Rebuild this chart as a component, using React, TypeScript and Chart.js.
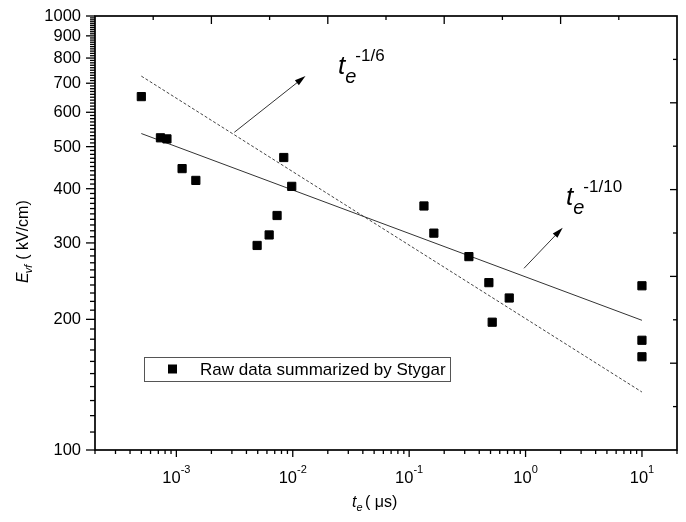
import React, { useEffect, useRef } from "react";
import { Chart, registerables } from "chart.js";

Chart.register(...registerables);

// ---- data ----
const pulseWidths = [5.0e-4, 7.3e-4, 8.3e-4, 1.12e-3, 1.47e-3, 4.94e-3, 6.27e-3, 7.33e-3, 8.37e-3, 9.8e-3, 0.134, 0.163, 0.326, 0.484, 0.517, 0.724, 10, 10, 10];
const fieldValues = [652, 524, 521, 445, 418, 296, 313, 347, 472, 405, 365, 316, 279, 243, 197, 224, 239, 179, 164];
const fitX = [5e-4, 10];
const fitTenth = [536, 199];
const fitSixth = [727, 136];
const yTickLabels = [100, 200, 300, 400, 500, 600, 700, 800, 900, 1000];
const xTickValues = [1e-3, 1e-2, 1e-1, 1, 10];
const xTickExponents = ["-3", "-2", "-1", "0", "1"];
const legendLabel = "Raw data summarized by Stygar";

const FONT = '"Liberation Sans", Arial, sans-serif';

function drawArrow(ctx: CanvasRenderingContext2D, x1: number, y1: number, x2: number, y2: number) {
  const ang = Math.atan2(y2 - y1, x2 - x1);
  const len = 11, half = 3.2;
  ctx.beginPath();
  ctx.moveTo(x1, y1);
  ctx.lineTo(x2 - Math.cos(ang) * len * 0.8, y2 - Math.sin(ang) * len * 0.8);
  ctx.stroke();
  ctx.beginPath();
  ctx.moveTo(x2, y2);
  ctx.lineTo(x2 - Math.cos(ang) * len - Math.sin(ang) * half, y2 - Math.sin(ang) * len + Math.cos(ang) * half);
  ctx.lineTo(x2 - Math.cos(ang) * len + Math.sin(ang) * half, y2 - Math.sin(ang) * len - Math.cos(ang) * half);
  ctx.closePath();
  ctx.fill();
}

function drawPowerLabel(ctx: CanvasRenderingContext2D, x: number, base: number, sup: string) {
  ctx.textAlign = "left";
  ctx.textBaseline = "alphabetic";
  ctx.font = `italic 26px ${FONT}`;
  ctx.fillText("t", x, base);
  const tw = ctx.measureText("t").width;
  ctx.font = `italic 20px ${FONT}`;
  ctx.fillText("e", x + tw, base + 9);
  const ew = ctx.measureText("e").width;
  ctx.font = `17px ${FONT}`;
  ctx.fillText(sup, x + tw + ew - 1, base - 13);
}

const decor = {
  id: "decor",
  afterDraw(chart: any) {
    const ctx: CanvasRenderingContext2D = chart.ctx;
    const { left, right, top, bottom } = chart.chartArea;
    const xs = chart.scales.x;
    const ys = chart.scales.y;
    ctx.save();
    ctx.strokeStyle = "#000";
    ctx.fillStyle = "#000";

    const seg = (a: number, b: number, c: number, d: number) => {
      ctx.beginPath();
      ctx.moveTo(a, b);
      ctx.lineTo(c, d);
      ctx.stroke();
    };

    // left axis ticks (outward)
    ctx.lineWidth = 1.3;
    for (let v = 100; v <= 1000; v += 10) {
      const y = ys.getPixelForValue(v);
      const major = v % 100 === 0;
      seg(left, y, left - (major ? 9 : 5), y);
    }
    // bottom axis ticks (outward)
    for (let e = -4; e <= 1; e++) {
      for (let m = 1; m <= 9; m++) {
        const v = m * Math.pow(10, e);
        if (v < 2e-4 * 0.999 || v > 20 * 1.001) continue;
        const x = xs.getPixelForValue(v);
        seg(x, bottom, x, bottom + (m === 1 ? 7 : 4));
      }
    }
    // top axis ticks (inward)
    for (let i = 1; i < 10; i++) {
      const x = left + ((right - left) * i) / 10;
      seg(x, top, x, top + (i % 2 === 0 ? 8 : 4));
    }
    // right axis ticks (inward)
    for (let i = 1; i < 10; i++) {
      const y = bottom - ((bottom - top) * i) / 10;
      seg(right, y, right - (i % 2 === 0 ? 7 : 4), y);
    }

    // frame
    ctx.lineWidth = 1.7;
    ctx.strokeRect(left, top, right - left, bottom - top);

    // y tick labels
    ctx.font = `16.5px ${FONT}`;
    ctx.textAlign = "right";
    ctx.textBaseline = "middle";
    for (const v of yTickLabels) {
      ctx.fillText(String(v), left - 14, ys.getPixelForValue(v) + 0.5);
    }

    // x tick labels with superscripts
    ctx.textBaseline = "alphabetic";
    ctx.textAlign = "left";
    xTickValues.forEach((v, i) => {
      const x = xs.getPixelForValue(v);
      ctx.font = `16.5px ${FONT}`;
      const w1 = ctx.measureText("10").width;
      ctx.font = `11px ${FONT}`;
      const w2 = ctx.measureText(xTickExponents[i]).width;
      const start = x - (w1 + w2) / 2;
      ctx.font = `16.5px ${FONT}`;
      ctx.fillText("10", start, bottom + 33);
      ctx.font = `11px ${FONT}`;
      ctx.fillText(xTickExponents[i], start + w1, bottom + 23);
    });

    // x axis title: t_e ( μs)
    {
      const x0 = 352, base = 507;
      ctx.font = `italic 16px ${FONT}`;
      ctx.fillText("t", x0, base);
      const tw = ctx.measureText("t").width;
      ctx.font = `italic 11px ${FONT}`;
      ctx.fillText("e", x0 + tw, base + 4);
      ctx.font = `16px ${FONT}`;
      ctx.fillText("( \u03bcs)", x0 + 13, base);
    }

    // y axis title: E_vf ( kV/cm)
    {
      ctx.save();
      ctx.translate(28, 283);
      ctx.rotate(-Math.PI / 2);
      ctx.font = `italic 16px ${FONT}`;
      ctx.fillText("E", 0, 0);
      const ew = ctx.measureText("E").width;
      ctx.font = `italic 11px ${FONT}`;
      ctx.fillText("vf", ew - 1, 4);
      const vw = ctx.measureText("vf").width;
      ctx.font = `16px ${FONT}`;
      ctx.fillText("( kV/cm)", ew + vw + 4, 0);
      ctx.restore();
    }

    // annotations
    ctx.strokeStyle = "#333";
    ctx.fillStyle = "#000";
    ctx.lineWidth = 1;
    drawArrow(ctx, 234.3, 132.3, 305.5, 76);
    drawArrow(ctx, 524, 268.3, 562.7, 227.7);
    drawPowerLabel(ctx, 338, 74, "-1/6");
    drawPowerLabel(ctx, 566, 205, "-1/10");

    // legend
    ctx.strokeStyle = "#555";
    ctx.lineWidth = 1;
    ctx.strokeRect(144.5, 357.5, 306, 24);
    ctx.fillStyle = "#000";
    ctx.fillRect(168, 364.5, 9, 9);
    ctx.font = `17px ${FONT}`;
    ctx.textAlign = "left";
    ctx.textBaseline = "middle";
    ctx.fillText(legendLabel, 200, 370);

    ctx.restore();
  },
};

export default function App() {
  const ref = useRef<HTMLCanvasElement>(null);
  useEffect(() => {
    document.body.style.margin = "0";
    const chart = new Chart(ref.current as HTMLCanvasElement, {
      type: "scatter",
      data: {
        datasets: [
          {
            label: legendLabel,
            data: pulseWidths.map((x, i) => ({ x, y: fieldValues[i] })),
            pointStyle: "rect",
            pointRadius: 5.8,
            pointBackgroundColor: "#000",
            pointBorderColor: "#000",
            pointBorderWidth: 1,
            showLine: false,
          } as any,
          {
            label: "t^-1/10",
            type: "line",
            data: fitX.map((x, i) => ({ x, y: fitTenth[i] })),
            borderColor: "#333",
            borderWidth: 1,
            pointRadius: 0,
            fill: false,
          } as any,
          {
            label: "t^-1/6",
            type: "line",
            data: fitX.map((x, i) => ({ x, y: fitSixth[i] })),
            borderColor: "#444",
            borderWidth: 1,
            borderDash: [3, 2],
            pointRadius: 0,
            fill: false,
          } as any,
        ],
      },
      options: {
        responsive: false,
        animation: false,
        devicePixelRatio: 1,
        events: [],
        layout: { padding: { left: 95, right: 9, top: 16, bottom: 72 } },
        scales: {
          x: { type: "logarithmic", min: 2e-4, max: 20, display: false },
          y: { type: "logarithmic", min: 100, max: 1000, display: false },
        },
        plugins: { legend: { display: false }, tooltip: { enabled: false } },
      },
      plugins: [decor],
    });
    return () => chart.destroy();
  }, []);
  return <canvas ref={ref} width={686} height={522} style={{ display: "block" }} />;
}
